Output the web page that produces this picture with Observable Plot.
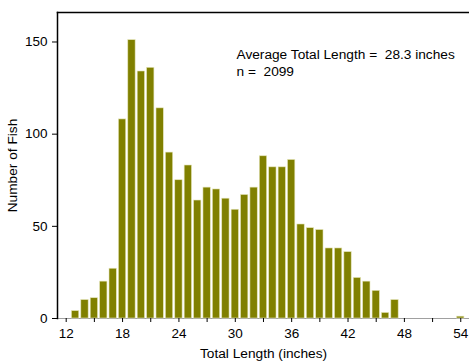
<!DOCTYPE html>
<html>
<head>
<meta charset="utf-8">
<script src="https://cdn.jsdelivr.net/npm/d3@7"></script>
<script src="https://cdn.jsdelivr.net/npm/@observablehq/plot@0.6"></script>
<style>
  html, body { margin: 0; padding: 0; background: #fff; }
  svg { font-family: "Liberation Sans", Arial, sans-serif; }
</style>
</head>
<body>
<div id="chart"></div>
<script>
const lengths = [12,13,14,15,16,17,18,19,20,21,22,23,24,25,26,27,28,29,30,31,32,33,34,35,36,37,38,39,40,41,42,43,44,45,46,47,48,49,50,51,52,53,54];
const counts  = [0,4,10,11,20,27,108,151,134,136,114,90,75,83,64,71,70,65,59,67,71,88,82,82,86,51,49,48,38,38,36,22,20,15,3,10,0,0,0,0,0,0,1];
const xTicks = [12,15,18,21,24,27,30,33,36,39,42,45,48,51,54];
const yTicks = [0,50,100,150];
const annotation = ["Average Total Length =\u00a0 28.3 inches", "n =\u00a0 2099"];
const xLabel = "Total Length (inches)";
const yLabel = "Number of Fish";

const data = lengths.map((l, i) => ({len: l, n: counts[i]}));
const halfW = 0.39;

const chart = Plot.plot({
  width: 469,
  height: 362,
  marginTop: 12,
  marginBottom: 44,
  marginLeft: 57,
  marginRight: 0,
  style: {fontFamily: "Liberation Sans, Arial, sans-serif", fontSize: "13.5px", color: "#000", background: "#fff"},
  x: {domain: [11.074, 54.93]},
  y: {domain: [0, 166]},
  marks: [
    Plot.ruleY([0], {stroke: "#a0a0a0", strokeWidth: 1}),
    Plot.rectY(data, {
      x1: d => d.len - halfW,
      x2: d => d.len + halfW,
      y1: 0,
      y2: "n",
      fill: "#808000",
      stroke: "#e4e4b8",
      strokeWidth: 0.6
    }),
    Plot.axisX({
      ticks: xTicks,
      tickSize: 4,
      tickPadding: 6,
      tickFormat: d => d % 6 === 0 ? String(d) : "",
      fontSize: 13.5,
      label: null,
      stroke: "#000"
    }),
    Plot.axisY({
      ticks: yTicks,
      tickSize: 5,
      tickPadding: 5,
      fontSize: 13.5,
      label: null,
      stroke: "#000"
    }),
    Plot.frame({anchor: "left", stroke: "#000", strokeWidth: 1.5}),
    Plot.frame({anchor: "top", stroke: "#000", strokeWidth: 1.5}),
    Plot.text([annotation.join("\n")], {
      frameAnchor: "top-left",
      dx: 179,
      dy: 34,
      textAnchor: "start",
      lineAnchor: "top",
      lineHeight: 1.25,
      fontSize: 13.7,
      fill: "#000"
    }),
    Plot.text([xLabel], {
      frameAnchor: "bottom",
      dy: 39.5,
      lineAnchor: "bottom",
      fontSize: 13.7,
      fill: "#000"
    }),
    Plot.text([yLabel], {
      frameAnchor: "left",
      dx: -45,
      rotate: -90,
      textAnchor: "middle",
      fontSize: 13.7,
      fill: "#000"
    })
  ]
});
document.getElementById("chart").appendChild(chart);
</script>
</body>
</html>
